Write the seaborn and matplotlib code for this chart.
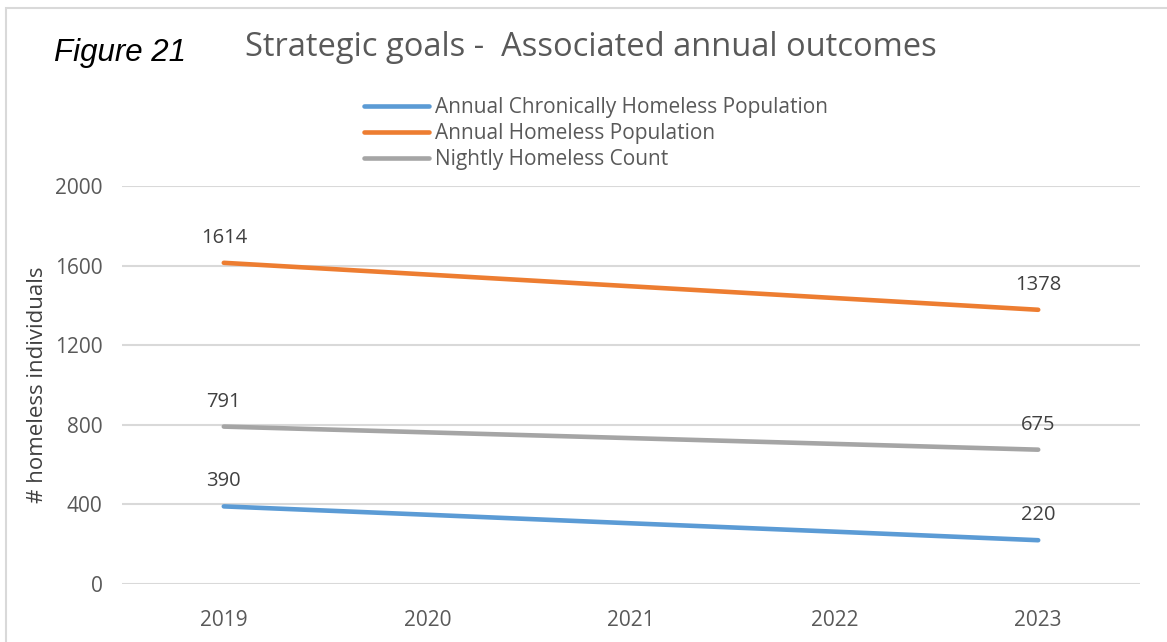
import matplotlib.pyplot as plt
import matplotlib.patches as mpatches
import seaborn as sns
import pandas as pd

# Chart data
years = ['2019', '2020', '2021', '2022', '2023']
chronic = [390, 348, 305, 263, 220]
annual = [1614, 1555, 1496, 1437, 1378]
nightly = [791, 762, 733, 704, 675]

series_names = ['Annual Chronically Homeless Population',
                'Annual Homeless Population',
                'Nightly Homeless Count']
colors = ['#5B9BD5', '#ED7D31', '#A5A5A5']

rows = []
for name, vals in zip(series_names, [chronic, annual, nightly]):
    for y, v in zip(years, vals):
        rows.append({'Year': y, 'Value': v, 'Series': name})
df = pd.DataFrame(rows)

sns.set_style('white')
plt.rcParams['font.family'] = ['Open Sans', 'DejaVu Sans']

fig = plt.figure(figsize=(11.67, 6.42), dpi=100)
ax = fig.add_axes([122 / 1167, 58 / 642, 1018 / 1167, 398 / 642])

sns.lineplot(data=df, x='Year', y='Value', hue='Series', hue_order=series_names,
             palette=colors, linewidth=3.3, ax=ax, legend=False,
             solid_capstyle='round')

ax.set_xlim(-0.5, 4.5)
ax.set_ylim(0, 2000)
ax.set_yticks([0, 400, 800, 1200, 1600, 2000])
ax.yaxis.grid(True, color='#d9d9d9', linewidth=1.5)
ax.set_axisbelow(True)
for s in ax.spines.values():
    s.set_visible(False)
ax.tick_params(axis='both', length=0, labelsize=15, labelcolor='#595959')
ax.tick_params(axis='x', pad=19)
ax.tick_params(axis='y', pad=14)
ax.set_xlabel('')
ax.set_ylabel('# homeless individuals', fontsize=16, color='#404040')
ax.yaxis.set_label_coords(-0.073, 0.5)

# data labels at first and last points
for vals in [chronic, annual, nightly]:
    for i in [0, len(years) - 1]:
        ax.annotate(str(vals[i]), (i, vals[i]), xytext=(0, 18), textcoords='offset points',
                    ha='center', va='center', fontsize=14.5, color='#404040')

# legend
handles = [plt.Line2D([], [], color=c, linewidth=3.3, solid_capstyle='round') for c in colors]
fig.legend(handles, series_names, loc='upper left', bbox_to_anchor=(356 / 1167, 1 - 89 / 642),
           frameon=False, fontsize=15, labelcolor='#595959', handlelength=3.1,
           handletextpad=0.3, labelspacing=0.23, borderaxespad=0)

fig.text(591 / 1167, 1 - 47 / 642, 'Strategic goals -  Associated annual outcomes',
         ha='center', va='center', fontsize=23.5, color='#595959')
fig.text(54 / 1167, 1 - 53 / 642, 'Figure 21', ha='left', va='center', fontsize=22.5,
         style='italic', family='Liberation Sans', color='black')

# chart border
fig.patches.append(mpatches.Rectangle((6 / 1167, -0.1), 1.2, 1 - 8 / 642 + 0.1,
                                      transform=fig.transFigure, fill=False,
                                      edgecolor='#d9d9d9', linewidth=1.5))

fig.savefig('out.png', dpi=100)
